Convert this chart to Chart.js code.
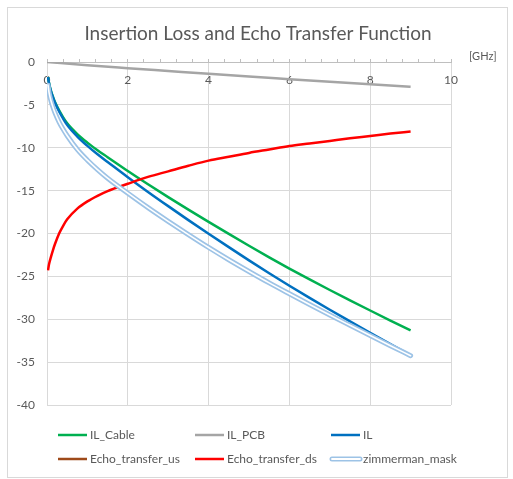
<!DOCTYPE html>
<html>
<head>
<meta charset="utf-8">
<script src="https://cdn.jsdelivr.net/npm/chart.js@4.4.0/dist/chart.umd.min.js"></script>
<style>html,body{margin:0;padding:0;background:#fff;}canvas{display:block;}</style>
</head>
<body>
<canvas id="c" width="513" height="479"></canvas>
<script>
// ---- data ----
const chartTitle = 'Insertion Loss and Echo Transfer Function';
const xUnitLabel = '[GHz]';
const seriesNames = ['IL_Cable', 'IL_PCB', 'IL', 'Echo_transfer_us', 'Echo_transfer_ds', 'zimmerman_mask'];
const freqGHz = [0.025, 0.05, 0.1, 0.15, 0.2, 0.3, 0.4, 0.5, 0.75, 1, 1.25, 1.5, 2, 2.5, 3, 3.5, 4, 4.5, 5, 5.5, 6, 6.5, 7, 7.5, 8, 8.5, 9];
const ilCable = [-1.75, -2.45, -3.4, -4.1, -4.7, -5.65, -6.45, -7.15, -8.4, -9.4, -10.3, -11.1, -12.71, -14.26, -15.76, -17.22, -18.65, -20.05, -21.43, -22.78, -24.09, -25.36, -26.59, -27.79, -28.98, -30.15, -31.3];
const ilPcbFreq = [0, 1, 2, 3, 4, 5, 6, 7, 8, 9];
const ilPcb = [0, -0.38, -0.72, -1.05, -1.38, -1.7, -2.0, -2.3, -2.6, -2.9];
const il = [-1.76, -2.47, -3.44, -4.16, -4.78, -5.77, -6.61, -7.35, -8.69, -9.78, -10.76, -11.65, -13.43, -15.15, -16.81, -18.44, -20.03, -21.59, -23.13, -24.63, -26.09, -27.51, -28.89, -30.24, -31.58, -32.9, -34.2];
const echoTransferUs = [];
const echoTransferDs = [-24.3, -23.6, -22.7, -21.9, -21.2, -20.0, -19.1, -18.35, -17.1, -16.25, -15.6, -15.05, -14.2, -13.4, -12.75, -12.1, -11.5, -11.05, -10.6, -10.2, -9.8, -9.5, -9.2, -8.9, -8.63, -8.35, -8.1];
const zimmermanMask = [-2.7, -3.55, -4.55, -5.3, -5.95, -7.0, -7.85, -8.6, -10.2, -11.45, -12.55, -13.55, -15.3, -16.98, -18.58, -20.13, -21.63, -23.06, -24.43, -25.76, -27.03, -28.28, -29.51, -30.71, -31.9, -33.08, -34.25];
const xTickValues = [0, 2, 4, 6, 8, 10];
const xTickLabels = ['0', '2', '4', '6', '8', '10'];
const yTickLabels = ['-40', '-35', '-30', '-25', '-20', '-15', '-10', '-5', '0'];

// ---- styles ----
const FONT = "Lato, 'Open Sans', 'DejaVu Sans', sans-serif";
const TEXT = '#595959';
const GRID = '#D9D9D9';
const AXIS = '#BFBFBF';
const colors = ['#00B050', '#A5A5A5', '#0070C0', '#9E4A1A', '#FF0000', '#9DC3E6'];
const LW = 2.5;

const pts = (xs, ys) => ys.map((v, i) => ({x: xs[i], y: v}));

const datasets = [
  {label: seriesNames[0], data: pts(freqGHz, ilCable), borderColor: colors[0], order: 6},
  {label: seriesNames[1], data: pts(ilPcbFreq, ilPcb), borderColor: colors[1], order: 5},
  {label: seriesNames[2], data: pts(freqGHz, il), borderColor: colors[2], order: 4},
  {label: seriesNames[3], data: pts(freqGHz, echoTransferUs), borderColor: colors[3], order: 3},
  {label: seriesNames[4], data: pts(freqGHz, echoTransferDs), borderColor: colors[4], order: 2},
  {label: seriesNames[5], data: pts(freqGHz, zimmermanMask), borderColor: colors[5], borderWidth: 5, borderCapStyle: 'round', order: 1},
  {label: seriesNames[5] + '_inner', data: pts(freqGHz, zimmermanMask), borderColor: '#FFFFFF', borderWidth: 1.6, borderCapStyle: 'round', order: 0}
].map(d => Object.assign({borderWidth: LW, pointRadius: 0, fill: false, cubicInterpolationMode: 'monotone'}, d));

function isMajor(v) {
  return xTickValues.some(t => Math.abs(t - v) < 1e-6);
}
function majorLabel(v) {
  const i = xTickValues.findIndex(t => Math.abs(t - v) < 1e-6);
  return i >= 0 ? xTickLabels[i] : '';
}

const decor = {
  id: 'decor',
  beforeDraw(chart) {
    const ctx = chart.ctx;
    ctx.save();
    ctx.fillStyle = '#FFFFFF';
    ctx.fillRect(0, 0, chart.width, chart.height);
    ctx.strokeStyle = GRID;
    ctx.lineWidth = 1;
    ctx.strokeRect(7.5, 7.5, 500, 470);
    ctx.restore();
  },
  afterDraw(chart) {
    const ctx = chart.ctx;
    ctx.save();
    // title
    ctx.fillStyle = TEXT;
    ctx.font = '19px ' + FONT;
    ctx.textAlign = 'center';
    ctx.textBaseline = 'alphabetic';
    ctx.fillText(chartTitle, 258, 40);
    // unit label
    ctx.font = '11px ' + FONT;
    ctx.textAlign = 'left';
    ctx.textBaseline = 'middle';
    ctx.fillText(xUnitLabel, 469, 56);
    // legend
    const cols = [58, 195, 331];
    const rows = [435, 459];
    const sampleLen = 29;
    ctx.font = '12px ' + FONT;
    seriesNames.forEach((name, i) => {
      const x = cols[i % 3];
      const y = rows[Math.floor(i / 3)];
      ctx.lineCap = 'butt';
      if (i === 5) {
        ctx.lineCap = 'round';
        ctx.strokeStyle = colors[5];
        ctx.lineWidth = 5;
        ctx.beginPath(); ctx.moveTo(x + 1, y); ctx.lineTo(x + sampleLen, y); ctx.stroke();
        ctx.strokeStyle = '#FFFFFF';
        ctx.lineWidth = 1.8;
        ctx.beginPath(); ctx.moveTo(x + 1, y); ctx.lineTo(x + sampleLen, y); ctx.stroke();
      } else {
        ctx.strokeStyle = colors[i];
        ctx.lineWidth = LW;
        ctx.beginPath(); ctx.moveTo(x, y); ctx.lineTo(x + sampleLen, y); ctx.stroke();
      }
      ctx.fillStyle = TEXT;
      ctx.textAlign = 'left';
      ctx.textBaseline = 'middle';
      ctx.fillText(name, x + sampleLen + 3, y);
    });
    ctx.restore();
  }
};

new Chart(document.getElementById('c'), {
  type: 'line',
  data: {datasets},
  options: {
    responsive: false,
    animation: false,
    layout: {padding: {left: 7, right: 62, top: 62, bottom: 74}},
    plugins: {legend: {display: false}, title: {display: false}, tooltip: {enabled: false}},
    scales: {
      x: {
        type: 'linear', min: 0, max: 10,
        position: {y: 0},
        ticks: {
          stepSize: 0.4, autoSkip: false, maxRotation: 0, padding: 15,
          color: TEXT, font: {family: FONT, size: 12},
          callback: v => majorLabel(v)
        },
        grid: {
          color: c => (c.tick && isMajor(c.tick.value)) ? GRID : 'rgba(0,0,0,0)',
          tickColor: AXIS, tickLength: -4, drawTicks: true, lineWidth: 1
        },
        border: {color: AXIS, width: 1}
      },
      y: {
        min: -40, max: 0,
        ticks: {
          stepSize: 5, padding: 12, color: TEXT, font: {family: FONT, size: 12},
          callback: (v) => yTickLabels[Math.round((v + 40) / 5)]
        },
        grid: {color: c => (c.tick && c.tick.value === 0) ? 'rgba(0,0,0,0)' : GRID, drawTicks: false},
        border: {color: GRID},
        afterFit: s => { s.width = 40; }
      }
    }
  },
  plugins: [decor]
});
</script>
</body>
</html>
